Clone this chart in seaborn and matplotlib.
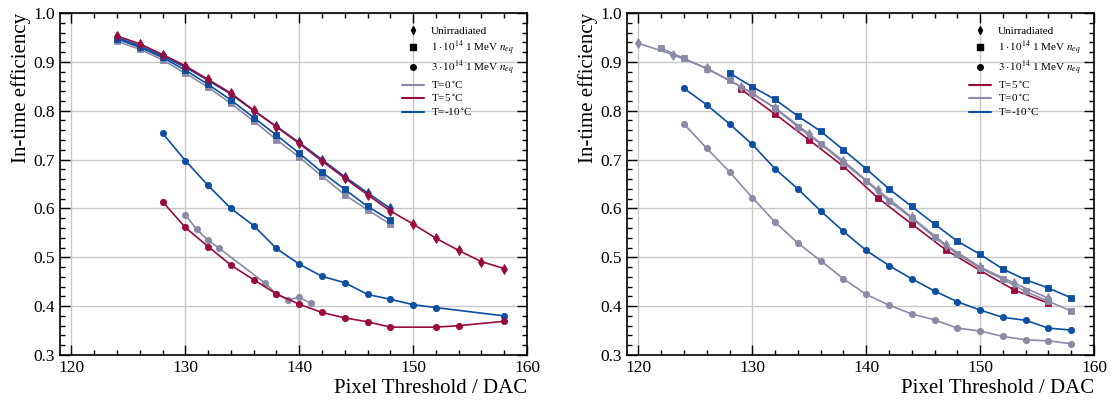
import matplotlib
matplotlib.use("Agg")
import matplotlib.pyplot as plt
import seaborn as sns
from matplotlib.lines import Line2D
from matplotlib.ticker import MultipleLocator

# colours per temperature
col_5 = "#9b0a3e"
col_0 = "#8a8aa6"
col_m10 = "#0b4ea2"

# ---- left panel data ----
L_uni_5_x = [124, 126, 128, 130, 132, 134, 136, 138, 140, 142, 144, 146, 148, 150, 152, 154, 156, 158]
L_uni_5_y = [0.953, 0.937, 0.915, 0.892, 0.864, 0.836, 0.801, 0.767, 0.733, 0.697, 0.662, 0.628, 0.595,
             0.568, 0.539, 0.514, 0.491, 0.477]
L_uni_m10_x = [124, 126, 128, 130, 132, 134, 136, 138, 140, 142, 144, 146, 148]
L_uni_m10_y = [0.950, 0.933, 0.912, 0.889, 0.862, 0.834, 0.800, 0.768, 0.735, 0.700, 0.665, 0.632, 0.600]

L_1e14_m10_x = [124, 126, 128, 130, 132, 134, 136, 138, 140, 142, 144, 146, 148]
L_1e14_m10_y = [0.947, 0.930, 0.909, 0.883, 0.854, 0.822, 0.786, 0.750, 0.713, 0.674, 0.639, 0.604, 0.576]
L_1e14_0_x = [124, 126, 128, 130, 132, 134, 136, 138, 140, 142, 144, 146, 148]
L_1e14_0_y = [0.942, 0.926, 0.904, 0.877, 0.848, 0.815, 0.779, 0.741, 0.705, 0.666, 0.628, 0.597, 0.568]

L_3e14_m10_x = [128, 130, 132, 134, 136, 138, 140, 142, 144, 146, 148, 150, 152, 158]
L_3e14_m10_y = [0.754, 0.698, 0.647, 0.600, 0.565, 0.518, 0.486, 0.461, 0.448, 0.424, 0.414, 0.403, 0.397, 0.380]
L_3e14_5_x = [128, 130, 132, 134, 136, 138, 140, 142, 144, 146, 148, 152, 154, 158]
L_3e14_5_y = [0.614, 0.561, 0.522, 0.484, 0.454, 0.425, 0.404, 0.387, 0.376, 0.368, 0.357, 0.357, 0.360, 0.369]
L_3e14_0_x = [130, 131, 132, 133, 137, 138, 139, 140, 141]
L_3e14_0_y = [0.587, 0.557, 0.535, 0.518, 0.447, 0.425, 0.413, 0.418, 0.406]

# ---- right panel data ----
R_uni_0_x = [120, 123, 126, 129, 132, 135, 138, 141, 144, 147, 150, 153, 156]
R_uni_0_y = [0.938, 0.915, 0.887, 0.849, 0.806, 0.752, 0.697, 0.638, 0.582, 0.525, 0.480, 0.447, 0.416]

R_1e14_0_x = [122, 124, 126, 128, 130, 132, 134, 136, 138, 140, 142, 144, 146, 148, 150, 152, 154, 156, 158]
R_1e14_0_y = [0.928, 0.907, 0.886, 0.862, 0.836, 0.805, 0.767, 0.732, 0.694, 0.656, 0.615, 0.580, 0.541,
              0.506, 0.478, 0.455, 0.430, 0.410, 0.390]
R_1e14_5_x = [129, 132, 135, 138, 141, 144, 147, 150, 153, 156]
R_1e14_5_y = [0.844, 0.793, 0.740, 0.686, 0.622, 0.568, 0.515, 0.473, 0.433, 0.406]
R_1e14_m10_x = [128, 130, 132, 134, 136, 138, 140, 142, 144, 146, 148, 150, 152, 154, 156, 158]
R_1e14_m10_y = [0.877, 0.849, 0.823, 0.789, 0.758, 0.720, 0.681, 0.640, 0.604, 0.568, 0.533, 0.506,
                0.476, 0.454, 0.437, 0.417]

R_3e14_m10_x = [124, 126, 128, 130, 132, 134, 136, 138, 140, 142, 144, 146, 148, 150, 152, 154, 156, 158]
R_3e14_m10_y = [0.846, 0.812, 0.773, 0.731, 0.681, 0.640, 0.595, 0.553, 0.514, 0.483, 0.456, 0.431,
                0.409, 0.392, 0.377, 0.371, 0.355, 0.351]
R_3e14_0_x = [124, 126, 128, 130, 132, 134, 136, 138, 140, 142, 144, 146, 148, 150, 152, 154, 156, 158]
R_3e14_0_y = [0.773, 0.723, 0.675, 0.622, 0.572, 0.529, 0.493, 0.456, 0.424, 0.402, 0.384, 0.372,
              0.355, 0.349, 0.338, 0.331, 0.329, 0.323]

uni_err = 0.006

sns.set_theme(style="ticks")
plt.rcParams["font.family"] = ["Liberation Serif", "DejaVu Serif"]
plt.rcParams["mathtext.fontset"] = "stix"
plt.rcParams["text.color"] = "black"
plt.rcParams["axes.labelcolor"] = "black"
plt.rcParams["xtick.color"] = "black"
plt.rcParams["ytick.color"] = "black"
plt.rcParams["axes.edgecolor"] = "black"


def draw(ax, x, y, color, marker, err=None):
    sns.lineplot(x=x, y=y, color=color, marker=marker, markersize=4.5 if marker != "d" else 5.5,
                 markeredgecolor=color, markeredgewidth=0.6, linewidth=1.2, ax=ax)
    if err is not None:
        ax.errorbar(x, y, yerr=err, fmt="none", ecolor=color, elinewidth=1.0, capsize=0)


def style_axis(ax):
    ax.set_xlim(119, 160)
    ax.set_ylim(0.3, 1.0)
    ax.xaxis.set_major_locator(MultipleLocator(10))
    ax.xaxis.set_minor_locator(MultipleLocator(2))
    ax.yaxis.set_major_locator(MultipleLocator(0.1))
    ax.yaxis.set_minor_locator(MultipleLocator(0.02))
    ax.tick_params(which="both", direction="in", top=True, right=True, labelsize=12.5, width=1.0)
    ax.tick_params(which="major", length=7)
    ax.tick_params(which="minor", length=3.5)
    ax.grid(True, which="major", color="#c8c8c8", linewidth=1.0)
    ax.set_axisbelow(True)
    for s in ax.spines.values():
        s.set_linewidth(1.2)
    ax.set_xlabel("Pixel Threshold / DAC", fontsize=15, loc="right", labelpad=2)
    ax.set_ylabel("In-time efficiency", fontsize=15, loc="top", labelpad=2)


def add_legend(ax, temp_order):
    handles = [
        Line2D([], [], color="black", marker="d", linestyle="none", markersize=4),
        Line2D([], [], color="black", marker="s", linestyle="none", markersize=4),
        Line2D([], [], color="black", marker="o", linestyle="none", markersize=4),
    ]
    labels = ["Unirradiated", r"$1\cdot 10^{14}$ 1 MeV $n_{eq}$", r"$3\cdot 10^{14}$ 1 MeV $n_{eq}$"]
    temp_map = {"0": (col_0, r"T=0$\,^{\circ}$C"), "5": (col_5, r"T=5$\,^{\circ}$C"),
                "m10": (col_m10, r"T=-10$\,^{\circ}$C")}
    for t in temp_order:
        c, lab = temp_map[t]
        handles.append(Line2D([], [], color=c, linewidth=1.5))
        labels.append(lab)
    ax.legend(handles, labels, loc="upper right", frameon=False, fontsize=8,
              handlelength=2.0, labelspacing=0.18, borderaxespad=0.8, handletextpad=0.6)


fig = plt.figure(figsize=(11.12, 4.03), dpi=100)
axL = fig.add_axes([60 / 1112, 48 / 403, 467 / 1112, 342 / 403])
axR = fig.add_axes([627 / 1112, 48 / 403, 467 / 1112, 342 / 403])

# left panel
draw(axL, L_1e14_0_x, L_1e14_0_y, col_0, "s")
draw(axL, L_1e14_m10_x, L_1e14_m10_y, col_m10, "s")
draw(axL, L_uni_m10_x, L_uni_m10_y, col_m10, "d", uni_err)
draw(axL, L_uni_5_x, L_uni_5_y, col_5, "d", uni_err)
draw(axL, L_3e14_m10_x, L_3e14_m10_y, col_m10, "o")
draw(axL, L_3e14_0_x, L_3e14_0_y, col_0, "o")
draw(axL, L_3e14_5_x, L_3e14_5_y, col_5, "o")
style_axis(axL)
add_legend(axL, ["0", "5", "m10"])

# right panel
draw(axR, R_3e14_0_x, R_3e14_0_y, col_0, "o")
draw(axR, R_3e14_m10_x, R_3e14_m10_y, col_m10, "o")
draw(axR, R_1e14_m10_x, R_1e14_m10_y, col_m10, "s")
draw(axR, R_1e14_5_x, R_1e14_5_y, col_5, "s")
draw(axR, R_1e14_0_x, R_1e14_0_y, col_0, "s")
draw(axR, R_uni_0_x, R_uni_0_y, col_0, "d", uni_err)
style_axis(axR)
add_legend(axR, ["5", "0", "m10"])

fig.savefig("out.png", dpi=100)
